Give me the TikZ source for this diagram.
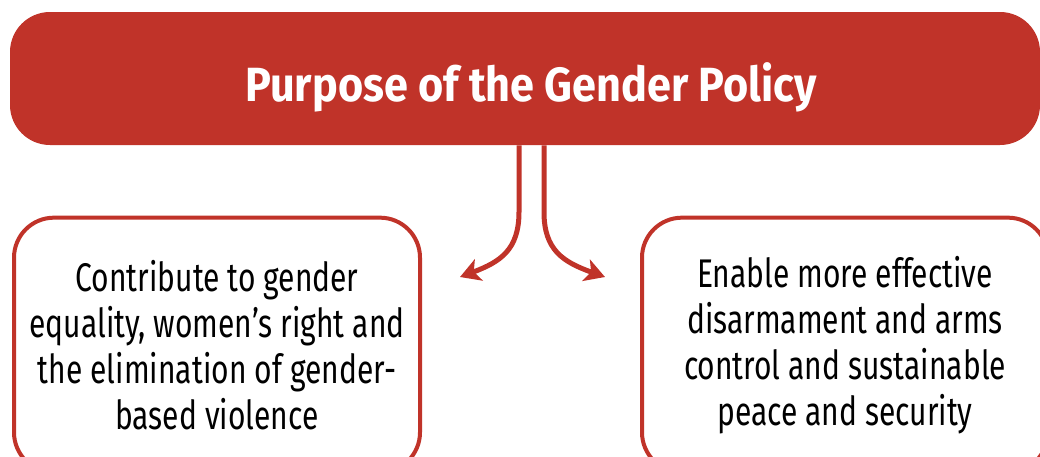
\documentclass[tikz,border=0pt]{standalone}
\usepackage{fontspec}
\setmainfont[FakeStretch=0.75]{Fira Sans}
\newfontfamily\titlefont[FakeStretch=0.9]{Fira Sans}
\usetikzlibrary{arrows.meta,positioning}
\definecolor{gpred}{RGB}{192,51,41}
\begin{document}
\begin{tikzpicture}[x=0.75pt,y=-0.75pt,
    titlebox/.style={fill=gpred,rounded corners=30pt,minimum width=772.5pt,minimum height=99.75pt,
      text height=42pt,text depth=7pt,text=white,font=\titlefont\fontsize{36}{40}\selectfont\bfseries},
    aimbox/.style={draw=gpred,line width=3pt,rounded corners=30pt,minimum width=304.5pt,minimum height=191pt,
      align=center,font=\fontsize{30}{34.5}\selectfont},
    flow/.style={draw=gpred,line width=3.75pt,-{Stealth[length=15pt,width=17pt,inset=4pt]}}]
        \path[use as bounding box,clip] (0,0) rectangle (1040,457);
        % Title
        \node[titlebox] (title) at (525,78.5) {\hspace{9pt}Purpose of the Gender Policy};
        % Boxes
        \node[aimbox] (equality) at (217,345) {Contribute to gender\\equality, women’s right and\\the elimination of gender-\\based violence};
        \node[aimbox] (peace) at (845,345) {Enable more effective\\disarmament and arms\\control and sustainable\\peace and security};
        % Arrows
        \coordinate (lbend) at (519,212);
        \coordinate (ltip) at (460,277);
        \coordinate (rbend) at (544,212);
        \coordinate (rtip) at (605,277);
        \draw[flow] ([xshift=-4.5pt]title.south) -- (lbend) .. controls (519,250) and (500,262) .. (ltip);
        \draw[flow] ([xshift=14.25pt]title.south) -- (rbend) .. controls (544,250) and (563,262) .. (rtip);
      \end{tikzpicture}
\end{document}
